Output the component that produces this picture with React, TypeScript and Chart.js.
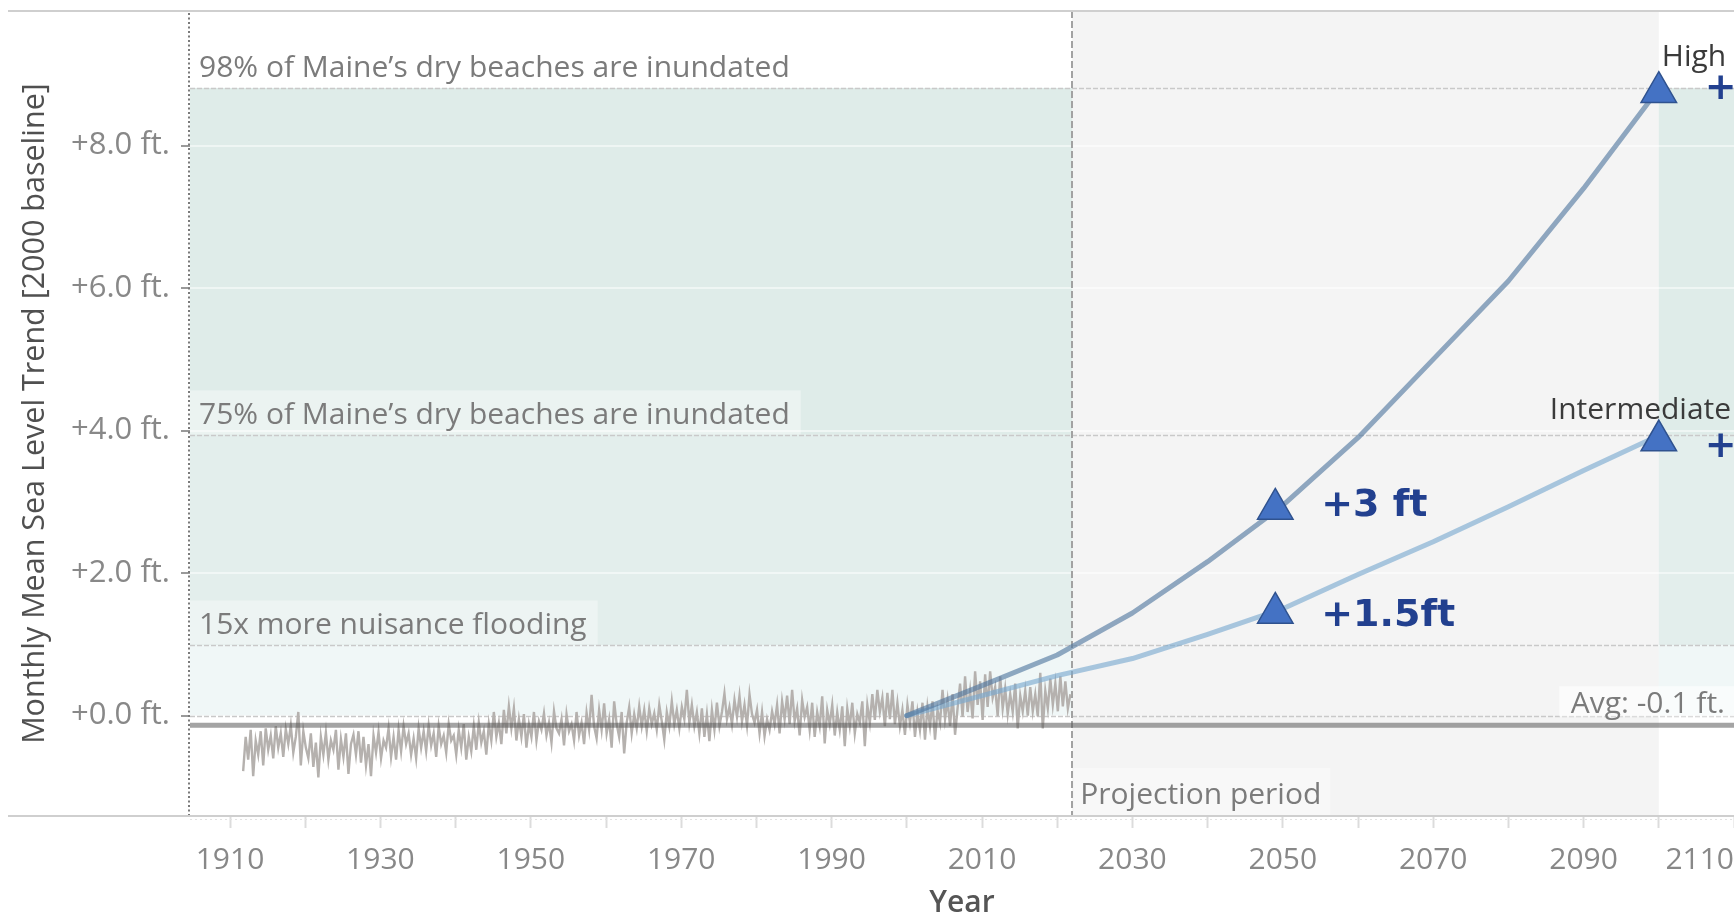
import React, { useEffect, useRef } from 'react';
import { Chart, registerables } from 'chart.js';

Chart.register(...registerables);

// ---------------- data ----------------
const X_MIN = 1904.68;
const X_MAX = 2110;
const Y_MIN = -1.41;
const Y_MAX = 9.89;

const xTickYears = [1910, 1920, 1930, 1940, 1950, 1960, 1970, 1980, 1990, 2000, 2010, 2020, 2030, 2040, 2050, 2060, 2070, 2080, 2090, 2100, 2110];
const xLabelYears = [1910, 1930, 1950, 1970, 1990, 2010, 2030, 2050, 2070, 2090, 2110];
const yTickValues = [0, 2, 4, 6, 8];

// observed monthly mean sea level (ft, 2000 baseline), sampled every 4 months
const histStartYear = 1911.75;
const histStep = 1 / 3;
const histValues = [
  -0.78, -0.30, -0.62, -0.20, -0.85, -0.35, -0.55, -0.22, -0.70, -0.18, -0.48, -0.28, -0.60, -0.15, -0.45, -0.25, -0.58, -0.19, -0.40, -0.14, -0.52, -0.30, 0.05, -0.70, -0.22, -0.45, -0.60, -0.25, -0.72, -0.38,
  -0.87, -0.30, -0.55, -0.24, -0.62, -0.35, -0.48, -0.20, -0.76, -0.33, -0.58, -0.25, -0.82, -0.40, -0.27, -0.55, -0.22, -0.66, -0.30, -0.70, -0.40, -0.85, -0.28, -0.52, -0.23, -0.60, -0.35, -0.45, -0.18, -0.58,
  -0.30, -0.62, -0.20, -0.50, -0.15, -0.40, -0.25, -0.55, -0.32, -0.60, -0.18, -0.45, -0.22, -0.50, -0.14, -0.42, -0.25, -0.58, -0.15, -0.40, -0.28, -0.52, -0.12, -0.35, -0.28, -0.55, -0.20, -0.45, -0.12, -0.62,
  -0.30, -0.50, -0.15, -0.48, -0.10, -0.38, -0.22, -0.55, -0.12, -0.35, 0.05, -0.30, -0.10, -0.40, 0.08, -0.25, 0.13, -0.18, 0.10, -0.35, -0.05, -0.30, 0.02, -0.45, -0.12, -0.30, 0.05, -0.35, -0.08, -0.20,
  0.03, -0.28, -0.10, -0.38, 0.06, -0.18, -0.25, -0.05, -0.42, 0.02, -0.22, -0.12, -0.35, 0.05, -0.28, -0.10, -0.40, 0.04, -0.20, 0.29, -0.15, -0.32, 0.08, -0.20, 0.17, -0.25, -0.05, -0.45, 0.20, -0.12,
  -0.30, 0.05, -0.53, -0.10, 0.12, -0.25, 0.02, -0.18, 0.13, -0.15, 0.08, -0.22, 0.10, -0.12, 0.03, -0.20, 0.15, -0.08, -0.34, 0.05, -0.15, 0.20, -0.12, 0.08, -0.18, 0.12, -0.05, 0.36, -0.10, 0.15,
  -0.15, 0.05, -0.25, 0.10, -0.30, 0.02, -0.36, 0.08, -0.20, 0.18, -0.15, 0.05, 0.31, -0.05, 0.12, -0.12, 0.22, -0.02, 0.28, -0.08, 0.15, -0.14, 0.30, 0.02, -0.10, 0.08, -0.25, 0.05, -0.29, -0.05,
  -0.20, 0.06, -0.12, 0.15, -0.25, 0.20, -0.05, 0.28, -0.12, 0.36, -0.08, 0.10, -0.28, 0.22, -0.02, 0.12, -0.20, 0.18, -0.30, 0.05, -0.15, 0.27, -0.39, 0.08, -0.12, 0.15, -0.28, 0.05, -0.20, 0.13,
  -0.43, 0.10, -0.15, 0.18, -0.25, 0.02, -0.10, 0.20, -0.43, 0.15, -0.10, 0.30, -0.06, 0.36, 0.05, 0.25, -0.15, 0.32, -0.05, 0.36, -0.12, 0.18, -0.15, 0.08, -0.27, 0.15, -0.10, 0.20, -0.30, 0.05,
  -0.20, 0.18, -0.34, 0.12, -0.15, 0.20, -0.34, 0.08, -0.10, 0.36, -0.05, 0.22, -0.15, 0.30, -0.27, 0.10, 0.45, -0.02, 0.55, 0.05, 0.35, -0.04, 0.62, 0.15, 0.48, -0.06, 0.58, 0.12, 0.62, 0.25,
  0.40, -0.01, 0.55, 0.10, 0.38, 0.02, 0.30, 0.05, 0.45, -0.18, 0.28, 0.06, 0.35, 0.00, 0.40, 0.06, 0.30, -0.01, 0.60, -0.18, 0.35, 0.10, 0.52, 0.15, 0.45, 0.06, 0.55, 0.13, 0.48, 0.10,
  0.30,
];

const projYears = [2000, 2010, 2020, 2030, 2040, 2050, 2060, 2070, 2080, 2090, 2100];
const highValues = [0, 0.42, 0.85, 1.44, 2.16, 2.95, 3.9, 5.0, 6.1, 7.4, 8.8];
const intermediateValues = [0, 0.28, 0.56, 0.8, 1.14, 1.5, 1.98, 2.44, 2.93, 3.44, 3.93];

const markerYears = [2049, 2100];
const highMarkerValues = [2.9, 8.75];
const intermediateMarkerValues = [1.44, 3.86];
const highMarkerLabels = ['+3 ft', '+'];
const intermediateMarkerLabels = ['+1.5ft', '+'];
const scenarioNames = ['High', 'Intermediate'];

const avgValue = -0.135;
const avgLabel = 'Avg: -0.1 ft.';
const projectionStart = 2022;
const projectionEnd = 2100;
const projectionLabel = 'Projection period';

const bandNames = [
  '98% of Maine\u2019s dry beaches are inundated',
  '75% of Maine\u2019s dry beaches are inundated',
  '15x more nuisance flooding',
];
const bandTops = [8.81, 3.94, 0.99];
const bandBottoms = [3.94, 0.99, 0];

// ---------------- styles ----------------
const FONT = '"Open Sans", "Noto Sans", sans-serif';
const BOLD_FONT = '"DejaVu Sans", sans-serif';
const bandColors = ['#dfece9', '#e3eeec', '#f0f7f7'];
const annotationColor = '#7b7b7b';
const markerTextColor = '#22408f';

function drawLabel(ctx: CanvasRenderingContext2D, text: string, x: number, yMid: number, box: null | { l: number; r: number; t: number; b: number; fill: string }, color: string, font: string, align: CanvasTextAlign = 'left') {
  ctx.font = font;
  const w = ctx.measureText(text).width;
  const left = align === 'right' ? x - w : x;
  if (box) {
    ctx.fillStyle = box.fill;
    ctx.fillRect(left - box.l, yMid - box.t, w + box.l + box.r, box.t + box.b);
  }
  ctx.fillStyle = color;
  ctx.textBaseline = 'middle';
  ctx.textAlign = 'left';
  ctx.fillText(text, left, yMid);
}

const decorPlugin = {
  id: 'decor',
  beforeDraw(chart: any) {
    const { ctx, chartArea: a, scales } = chart;
    const x = scales.x;
    const y = scales.y;
    ctx.save();
    ctx.fillStyle = '#ffffff';
    ctx.fillRect(0, 0, chart.width, chart.height);
    bandTops.forEach((top: number, i: number) => {
      const yt = y.getPixelForValue(top);
      const yb = y.getPixelForValue(bandBottoms[i]);
      ctx.fillStyle = bandColors[i];
      ctx.fillRect(a.left, yt, a.right - a.left, yb - yt);
    });
    const p0 = x.getPixelForValue(projectionStart);
    const p1 = x.getPixelForValue(projectionEnd);
    ctx.fillStyle = '#f4f4f4';
    ctx.fillRect(p0, a.top, p1 - p0, a.bottom - a.top);
    ctx.restore();
  },
  beforeDatasetsDraw(chart: any) {
    const { ctx, chartArea: a, scales } = chart;
    const x = scales.x;
    const y = scales.y;
    ctx.save();
    ctx.strokeStyle = '#c9c9c9';
    ctx.lineWidth = 1.5;
    ctx.setLineDash([5, 2]);
    [...bandTops, 0].forEach((v: number) => {
      const py = Math.round(y.getPixelForValue(v)) + 0.5;
      ctx.beginPath();
      ctx.moveTo(a.left, py);
      ctx.lineTo(a.right, py);
      ctx.stroke();
    });
    const px = Math.round(x.getPixelForValue(projectionStart));
    ctx.strokeStyle = '#a2a2a2';
    ctx.lineWidth = 2;
    ctx.setLineDash([7, 3]);
    ctx.beginPath();
    ctx.moveTo(px, a.top);
    ctx.lineTo(px, a.bottom);
    ctx.stroke();
    // dotted left axis line
    ctx.strokeStyle = '#7a7a7a';
    ctx.lineWidth = 2;
    ctx.setLineDash([2, 2.5]);
    ctx.beginPath();
    ctx.moveTo(a.left - 1, a.top + 2);
    ctx.lineTo(a.left - 1, a.bottom - 1);
    ctx.stroke();
    ctx.restore();
  },
  afterDatasetsDraw(chart: any) {
    const { ctx, chartArea: a, scales } = chart;
    const x = scales.x;
    const y = scales.y;
    ctx.save();
    const f30 = `30px ${FONT}`;
    // band labels
    bandNames.forEach((name: string, i: number) => {
      const yMid = y.getPixelForValue(bandTops[i]) - 19.5;
      drawLabel(ctx, name, a.left + 9, yMid, i === 0 ? null : { l: 9, r: 11, t: 25, b: 19, fill: 'rgba(255,255,255,0.38)' }, annotationColor, f30);
    });
    // projection label
    const px = x.getPixelForValue(projectionStart);
    drawLabel(ctx, projectionLabel, px + 8, a.bottom - 21, { l: 6.5, r: 9, t: 27, b: 21, fill: 'rgba(255,255,255,0.4)' }, annotationColor, f30);
    // average label
    const ya = y.getPixelForValue(avgValue);
    const y0 = y.getPixelForValue(0);
    const avgMid = ya - 21;
    drawLabel(ctx, avgLabel, a.right - 9, avgMid, { l: 11.5, r: 9, t: 18, b: y0 - avgMid + 1, fill: 'rgba(255,255,255,0.6)' }, annotationColor, f30, 'right');
    // marker labels
    const bold = `bold 38px ${BOLD_FONT}`;
    markerYears.forEach((yr: number, i: number) => {
      const mx = x.getPixelForValue(yr);
      drawLabel(ctx, highMarkerLabels[i], mx + 46, y.getPixelForValue(highMarkerValues[i]) - 3, null, markerTextColor, bold);
      drawLabel(ctx, intermediateMarkerLabels[i], mx + 46, y.getPixelForValue(intermediateMarkerValues[i]) + (i === 0 ? 3 : 7), null, markerTextColor, bold);
    });
    // scenario names near end markers
    const last = markerYears.length - 1;
    const ex = x.getPixelForValue(markerYears[last]);
    drawLabel(ctx, scenarioNames[0], ex + 3, y.getPixelForValue(highMarkerValues[last]) - 34.5, null, '#3a3a3a', f30);
    drawLabel(ctx, scenarioNames[1], ex - 109, y.getPixelForValue(intermediateMarkerValues[last]) - 30.5, null, '#3a3a3a', f30);
    ctx.restore();
  },
  afterDraw(chart: any) {
    const { ctx, chartArea: a } = chart;
    ctx.save();
    ctx.strokeStyle = '#cfcfcf';
    ctx.lineWidth = 2;
    ctx.beginPath();
    ctx.moveTo(8, a.top);
    ctx.lineTo(chart.width, a.top);
    ctx.moveTo(8, a.bottom);
    ctx.lineTo(chart.width, a.bottom);
    ctx.stroke();
    ctx.strokeStyle = '#e2e2e2';
    ctx.lineWidth = 1;
    ctx.setLineDash([2, 3]);
    ctx.beginPath();
    ctx.moveTo(a.left, a.bottom + 3.5);
    ctx.lineTo(chart.width, a.bottom + 3.5);
    ctx.stroke();
    ctx.restore();
  },
};

export default function App() {
  const ref = useRef<HTMLCanvasElement>(null);

  useEffect(() => {
    const canvas = ref.current;
    if (!canvas) return;
    const histData = histValues.map((v, i) => ({ x: histStartYear + i * histStep, y: v }));
    const highData = projYears.map((yr, i) => ({ x: yr, y: highValues[i] }));
    const intData = projYears.map((yr, i) => ({ x: yr, y: intermediateValues[i] }));
    const markerData = [
      ...markerYears.map((yr, i) => ({ x: yr, y: highMarkerValues[i] })),
      ...markerYears.map((yr, i) => ({ x: yr, y: intermediateMarkerValues[i] })),
    ];

    const chart = new Chart(canvas, {
      type: 'line',
      data: {
        datasets: [
          { label: 'Monthly mean sea level', data: histData, borderColor: '#b5b1ae', borderWidth: 2.4, pointRadius: 0, tension: 0, order: 5 } as any,
          { label: 'Average', data: [{ x: X_MIN, y: avgValue }, { x: X_MAX, y: avgValue }], borderColor: 'rgba(90,90,90,0.55)', borderWidth: 5, pointRadius: 0, order: 4 } as any,
          { label: 'Intermediate', data: intData, borderColor: 'rgba(120,168,206,0.62)', borderWidth: 5, pointRadius: 0, borderCapStyle: 'round', borderJoinStyle: 'round', order: 3 } as any,
          { label: 'High', data: highData, borderColor: 'rgba(79,118,158,0.62)', borderWidth: 5, pointRadius: 0, borderCapStyle: 'round', borderJoinStyle: 'round', order: 2 } as any,
          { label: 'Milestones', data: markerData, showLine: false, pointStyle: 'triangle', pointRadius: 20.5, backgroundColor: '#4472c4', borderColor: '#2f528f', borderWidth: 1.5, order: 1 } as any,
        ],
      },
      options: {
        responsive: false,
        animation: false,
        devicePixelRatio: 1,
        layout: { autoPadding: false, padding: { top: 11, left: 0, right: 0, bottom: 0 } },
        plugins: { legend: { display: false }, tooltip: { enabled: false } },
        events: [],
        scales: {
          x: {
            type: 'linear',
            min: X_MIN,
            max: X_MAX,
            afterBuildTicks: (s: any) => {
              s.ticks = [X_MIN, ...xTickYears].map((v) => ({ value: v }));
            },
            afterFit: (s: any) => {
              s.height = 99;
              s.paddingLeft = 0;
              s.paddingRight = 0;
            },
            ticks: {
              autoSkip: false,
              maxRotation: 0,
              minRotation: 0,
              align: 'inner',
              padding: 14,
              color: '#888888',
              font: { family: FONT, size: 30 },
              callback: (v: any) => (xLabelYears.includes(Number(v)) ? String(v) : ''),
            },
            grid: {
              drawOnChartArea: false,
              tickLength: 12,
              tickWidth: 2,
              tickColor: (c: any) => (c.index === 0 ? 'rgba(0,0,0,0)' : '#dcdcdc'),
            },
            border: { display: false },
            title: {
              display: true,
              text: 'Year',
              color: '#555555',
              font: { family: FONT, size: 30, weight: '600', lineHeight: 0.8 },
              padding: { top: 0, bottom: 0 },
            },
          } as any,
          y: {
            type: 'linear',
            min: Y_MIN,
            max: Y_MAX,
            afterBuildTicks: (s: any) => {
              s.ticks = yTickValues.map((v) => ({ value: v }));
            },
            afterFit: (s: any) => {
              s.width = 190;
              s.paddingTop = 0;
              s.paddingBottom = 0;
            },
            ticks: {
              padding: 11,
              color: '#888888',
              font: { family: FONT, size: 31 },
              callback: (v: any) => '+' + Number(v).toFixed(1) + ' ft.',
            },
            grid: {
              color: (c: any) => (c.tick && c.tick.value === 0 ? 'rgba(0,0,0,0)' : 'rgba(255,255,255,0.5)'),
              lineWidth: 2,
              tickLength: 9,
              tickWidth: 2,
              tickColor: '#9a9a9a',
            },
            border: { display: false },
            title: {
              display: true,
              text: 'Monthly Mean Sea Level Trend [2000 baseline]',
              color: '#505050',
              font: { family: FONT, size: 30.5, lineHeight: 0.8 },
              padding: { top: 23, bottom: 0 },
            },
          } as any,
        },
      },
      plugins: [decorPlugin],
    } as any);

    return () => chart.destroy();
  }, []);

  return (
    <div style={{ position: 'fixed', left: 0, top: 0, width: 1734, height: 915, background: '#ffffff', overflow: 'hidden' }}>
      <canvas ref={ref} width={1734} height={915} style={{ display: 'block', width: 1734, height: 915 }} />
    </div>
  );
}
